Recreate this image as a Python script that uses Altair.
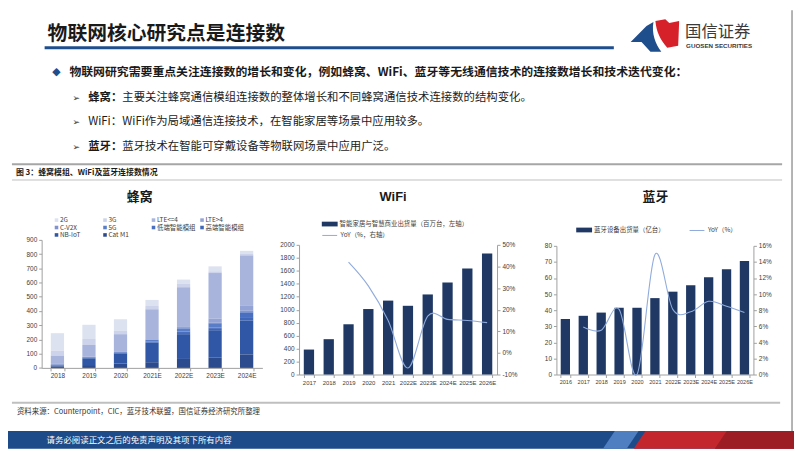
import altair as alt
import pandas as pd

# ---------------- data ----------------
cell_years = ["2018", "2019", "2020", "2021E", "2022E", "2023E", "2024E"]
cell_series = ["2G", "3G", "LTE<=4", "LTE>4", "C-V2X", "5G",
               "低端智能模组", "高端智能模组", "NB-IoT", "Cat M1"]
cell_2g = [123, 100, 82, 43, 30, 35, 22]
cell_3g = [35, 42, 23, 23, 24, 12, 10]
cell_lte_low = [58, 81, 123, 210, 279, 320, 355]
cell_lte_high = [6, 4, 1, 5, 8, 28, 32]
cell_cv2x = [0, 0, 0, 1, 2, 5, 6]
cell_5g = [0, 1, 3, 10, 22, 30, 8]
cell_low_smart = [3, 4, 4, 6, 11, 10, 33]
cell_high_smart = [3, 4, 4, 5, 8, 9, 25]
cell_nbiot = [6, 47, 72, 135, 174, 191, 237]
cell_catm1 = [10, 20, 30, 40, 63, 74, 95]
cell_colors = ["#dde2f0", "#ccd3ea", "#a8b4dc", "#94a3d5", "#7f92cd",
               "#5a7dc8", "#4a6fc1", "#3f66b8", "#2f57a6", "#2b4b8e"]

wifi_years = ["2017", "2018", "2019", "2020", "2021", "2022E", "2023E", "2024E", "2025E", "2026E"]
wifi_ship = [385, 545, 775, 1010, 1140, 1060, 1235, 1420, 1635, 1865]
wifi_yoy_years = ["2019", "2020", "2021", "2022E", "2023E", "2024E", "2025E", "2026E"]
wifi_yoy = [42, 31, 15, -7, 17, 15.5, 15, 14]
wifi_bar_label = "智能家居与智慧商业出货量（百万台，左轴）"
wifi_line_label = "YoY（%，右轴）"

bt_years = ["2016", "2017", "2018", "2019", "2020", "2021", "2022E", "2023E", "2024E", "2025E", "2026E"]
bt_ship = [34.5, 36.5, 38.5, 41.5, 41.5, 47.5, 51.5, 55.5, 60.5, 65.5, 70.5]
bt_yoy_years = ["2017", "2018", "2019", "2020", "2021", "2022E", "2023E", "2024E", "2025E", "2026E"]
bt_yoy = [5.9, 5.5, 8.1, 0.0, 14.9, 8.1, 7.8, 9.1, 8.5, 7.7]
bt_bar_label = "蓝牙设备出货量（亿台）"
bt_line_label = "YoY（%）"

NAVY = "#1f3864"
LINEC = "#8faadc"
BLUE = "#1f4e8c"
CJK = "Noto Sans CJK SC"
NUM = "'Liberation Sans Narrow', 'Liberation Sans', sans-serif"

W, H = 794, 443


def px(x):
    return x - 8


def py(y):
    return y - 8


def one():
    return pd.DataFrame({"k": [0]})


def txt(s, x, y, size, weight="normal", color="#222222", font=CJK, align="left"):
    return alt.Chart(pd.DataFrame({"t": [s]})).mark_text(
        align=align, baseline="middle", font=font, fontSize=size,
        fontWeight=weight, color=color
    ).encode(x=alt.value(px(x)), y=alt.value(py(y)), text="t:N")


def hrule(x1, x2, y, color, width):
    return alt.Chart(one()).mark_rule(color=color, strokeWidth=width).encode(
        x=alt.value(px(x1)), x2=alt.value(px(x2)), y=alt.value(py(y)))


def vrule(x, y1, y2, color, width):
    return alt.Chart(one()).mark_rule(color=color, strokeWidth=width).encode(
        x=alt.value(px(x)), y=alt.value(py(y1)), y2=alt.value(py(y2)))


def rect(x1, x2, y1, y2, color):
    return alt.Chart(one()).mark_rect(color=color).encode(
        x=alt.value(px(x1)), x2=alt.value(px(x2)),
        y=alt.value(py(y1)), y2=alt.value(py(y2)))


def shape(path, cx, cy, color):
    return alt.Chart(one()).mark_point(
        shape=path, size=4, filled=True, color=color, opacity=1, strokeWidth=0
    ).encode(x=alt.value(px(cx)), y=alt.value(py(cy)))


def ax(orient, offset, values=None, pct=False, band=False, size=7):
    kw = dict(orient=orient, offset=offset, title=None, grid=False,
              domainColor="#a0a0a0", tickColor="#a0a0a0", tickSize=3,
              labelFont=NUM, labelFontSize=size, labelColor="#404040", labelPadding=2)
    if values is not None:
        kw["values"] = values
    if pct:
        kw["labelExpr"] = "datum.value + '%'"
    elif not band:
        kw["format"] = "d"
    if band:
        kw.update(labelAngle=0, tickBand="extent", labelOverlap=False)
    return alt.Axis(**kw)


def bar_legend(x, y):
    return alt.Legend(orient="none", legendX=px(x), legendY=py(y) - 8, title=None,
                      symbolType="M-1,-0.3H1V0.3H-1Z", symbolSize=256, symbolStrokeWidth=0,
                      labelFont=CJK, labelFontSize=6.5, labelColor="#404040", labelOffset=2)


def line_legend(x, y):
    return alt.Legend(orient="none", legendX=px(x), legendY=py(y) - 7.5, title=None,
                      symbolType="stroke", symbolSize=225, symbolStrokeWidth=1,
                      labelFont=CJK, labelFontSize=6.5, labelColor="#404040", labelOffset=3)


# ---------------- chart 1: 蜂窝 ----------------
cell_values = [cell_2g, cell_3g, cell_lte_low, cell_lte_high, cell_cv2x, cell_5g,
               cell_low_smart, cell_high_smart, cell_nbiot, cell_catm1]
rows = []
for rank, (s, vals) in enumerate(zip(cell_series, cell_values)):
    for yr, v in zip(cell_years, vals):
        rows.append({"year": yr, "series": s, "value": v, "rank": rank})
cell_df = pd.DataFrame(rows)
cell_color_scale = alt.Scale(domain=cell_series, range=cell_colors)

c1 = alt.Chart(cell_df).mark_bar().encode(
    x=alt.X("year:N", sort=cell_years,
            scale=alt.Scale(range=[px(42), px(265)], paddingInner=0.58, paddingOuter=0.29),
            axis=ax("bottom", py(369.3) - H, band=True, size=6.5)),
    y=alt.Y("value:Q", stack="zero",
            scale=alt.Scale(domain=[0, 900], range=[py(369.3), py(240)], nice=False, zero=True),
            axis=ax("left", -px(42), values=list(range(0, 901, 100)), size=6.5)),
    color=alt.Color("series:N", scale=cell_color_scale, legend=None),
    order=alt.Order("rank:Q", sort="descending"),
)

# legend of chart 1: 4 columns x 3 rows, drawn through its own scales
leg_df = pd.DataFrame({
    "series": cell_series,
    "col": [i % 4 for i in range(len(cell_series))],
    "row": [i // 4 for i in range(len(cell_series))],
})
leg_x = alt.X("col:Q", scale=alt.Scale(domain=[0, 3], range=[px(57), px(204)]), axis=None)
leg_y = alt.Y("row:Q", scale=alt.Scale(domain=[0, 2], range=[py(220), py(235)]), axis=None)
leg_sq = alt.Chart(leg_df).mark_square(size=13, opacity=1, strokeWidth=0).encode(
    x=leg_x, y=leg_y, color=alt.Color("series:N", scale=cell_color_scale, legend=None))
leg_tx = alt.Chart(leg_df).mark_text(align="left", baseline="middle", dx=3.5, font=CJK,
                                     fontSize=6.5, color="#404040").encode(
    x=leg_x, y=leg_y, text="series:N")
leg1 = alt.layer(leg_sq, leg_tx)

# ---------------- chart 2: WiFi ----------------
wifi_df = pd.DataFrame({"year": wifi_years, "ship": wifi_ship, "s": wifi_bar_label})
wifi_yoy_df = pd.DataFrame({"year": wifi_yoy_years, "yoy": wifi_yoy, "s": wifi_line_label})
x2 = alt.X("year:N", sort=wifi_years,
           scale=alt.Scale(range=[px(302), px(502)], paddingInner=0.48, paddingOuter=0.24),
           axis=ax("bottom", py(376) - H, band=True, size=6))
b2 = alt.Chart(wifi_df).mark_bar().encode(
    x=x2,
    y=alt.Y("ship:Q", scale=alt.Scale(domain=[0, 2000], range=[py(376), py(245)], nice=False),
            axis=ax("left", -px(302), values=list(range(0, 2001, 200)), size=6.5)),
    color=alt.Color("s:N", scale=alt.Scale(range=[NAVY]), legend=bar_legend(325, 224)),
)
l2 = alt.Chart(wifi_yoy_df).mark_line(interpolate="cardinal", strokeWidth=1.1).encode(
    x=x2,
    y=alt.Y("yoy:Q", scale=alt.Scale(domain=[-10, 50], range=[py(376), py(245)], nice=False, zero=False),
            axis=ax("right", px(502) - W, values=list(range(-10, 51, 10)), pct=True, size=6.5)),
    stroke=alt.Stroke("s:N", scale=alt.Scale(range=[LINEC]), legend=line_legend(325, 235)),
)
sub2 = alt.layer(b2, l2).resolve_scale(y="independent")

# ---------------- chart 3: 蓝牙 ----------------
bt_df = pd.DataFrame({"year": bt_years, "ship": bt_ship, "s": bt_bar_label})
bt_yoy_df = pd.DataFrame({"year": bt_yoy_years, "yoy": bt_yoy, "s": bt_line_label})
x3 = alt.X("year:N", sort=bt_years,
           scale=alt.Scale(range=[px(562), px(761)], paddingInner=0.48, paddingOuter=0.24),
           axis=ax("bottom", py(376) - H, band=True, size=5.6))
b3 = alt.Chart(bt_df).mark_bar().encode(
    x=x3,
    y=alt.Y("ship:Q", scale=alt.Scale(domain=[0, 80], range=[py(376), py(246)], nice=False),
            axis=ax("left", -px(562), values=list(range(0, 81, 10)), size=6.5)),
    color=alt.Color("s:N", scale=alt.Scale(range=[NAVY]), legend=bar_legend(582, 230)),
)
l3 = alt.Chart(bt_yoy_df).mark_line(interpolate="cardinal", strokeWidth=1.1).encode(
    x=x3,
    y=alt.Y("yoy:Q", scale=alt.Scale(domain=[0, 16], range=[py(376), py(246)], nice=False),
            axis=ax("right", px(761) - W, values=list(range(0, 17, 2)), pct=True, size=6.5)),
    stroke=alt.Stroke("s:N", scale=alt.Scale(range=[LINEC]), legend=line_legend(696, 230)),
)
sub3 = alt.layer(b3, l3).resolve_scale(y="independent")

# ---------------- slide decoration ----------------
deco = [
    vrule(800, 8, 433, "#9a9a9a", 1.5),
    txt("物联网核心研究点是连接数", 48, 32, 20, "bold", "#1a1a1a"),
    hrule(45, 620, 46, BLUE, 3),
    shape("M-25,6 L-9,-10 L-2,-14 C-4,-2 0,8 6,16 L-5,16 L-14,6 Z", 662, 34, BLUE),
    shape("M0,-15 L10,-17 L14,-13 L24,-15 L23,10 L12,12 C5,4 1,-4 0,-15 Z", 662, 34, "#d6202a"),
    txt("国信证券", 692, 30, 16.5, "normal", "#3a3a3a"),
    txt("GUOSEN SECURITIES", 693, 44.5, 6.3, "bold", "#3a3a3a", font="Liberation Sans"),
    txt("◆", 57, 70, 11, "normal", BLUE, font="DejaVu Sans", align="center"),
    txt("物联网研究需要重点关注连接数的增长和变化，例如蜂窝、WiFi、蓝牙等无线通信技术的连接数增长和技术迭代变化：",
        70, 70, 12, "bold", "#1a1a1a"),
    txt("➢", 77, 97, 9, "normal", "#333333", font="DejaVu Sans", align="center"),
    txt("蜂窝：", 89, 97, 11.5, "bold", "#1a1a1a"),
    txt("主要关注蜂窝通信模组连接数的整体增长和不同蜂窝通信技术连接数的结构变化。", 123.5, 97, 11.5, "normal", "#222222"),
    txt("➢", 77, 121, 9, "normal", "#333333", font="DejaVu Sans", align="center"),
    txt("WiFi：", 89, 121, 11.5, "normal", "#1a1a1a"),
    txt("WiFi作为局域通信连接技术，在智能家居等场景中应用较多。", 123.5, 121, 11.5, "normal", "#222222"),
    txt("➢", 77, 146, 9, "normal", "#333333", font="DejaVu Sans", align="center"),
    txt("蓝牙：", 89, 146, 11.5, "bold", "#1a1a1a"),
    txt("蓝牙技术在智能可穿戴设备等物联网场景中应用广泛。", 123.5, 146, 11.5, "normal", "#222222"),
    hrule(12, 790, 163.5, "#a6a6a6", 2),
    txt("图 3：蜂窝模组、WiFi及蓝牙连接数情况", 16, 172, 8, "bold", "#1a1a1a"),
    hrule(12, 790, 179.5, "#bfbfbf", 1),
    txt("蜂窝", 141, 197, 13, "bold", "#1a1a1a", align="center"),
    txt("WiFi", 397, 197, 13, "bold", "#1a1a1a", font="Liberation Sans", align="center"),
    txt("蓝牙", 662, 197, 13, "bold", "#1a1a1a", align="center"),
    hrule(12, 788, 404.5, "#bfbfbf", 2),
    txt("资料来源：Counterpoint，CIC，蓝牙技术联盟，国信证券经济研究所整理", 17, 414, 7.5, "normal", "#333333"),
    rect(0, 802, 433, 451, "#1d4a88"),
    shape("M-18,9 L-6,-9 L18,-9 L6,9 Z", 627, 442, "#4f7fc0"),
    shape("M-81,9 L-69,-9 L81,-9 L81,9 Z", 721, 442, "#c4262e"),
    shape("M-40,9 L-28,-9 L40,-9 L40,9 Z", 762, 442, "#9c1d24"),
    txt("请务必阅读正文之后的免责声明及其项下所有内容", 47, 442, 8.5, "normal", "#ffffff"),
]

chart = alt.layer(*deco, c1, leg1, sub2, sub3).resolve_scale(
    x="independent", y="independent", color="independent", stroke="independent"
).properties(
    width=W, height=H, padding=0,
    autosize=alt.AutoSizeParams(type="none"),
    background="white",
).configure_view(stroke=None)

chart.save("out.html", embed_options={"renderer": "svg", "actions": False})
